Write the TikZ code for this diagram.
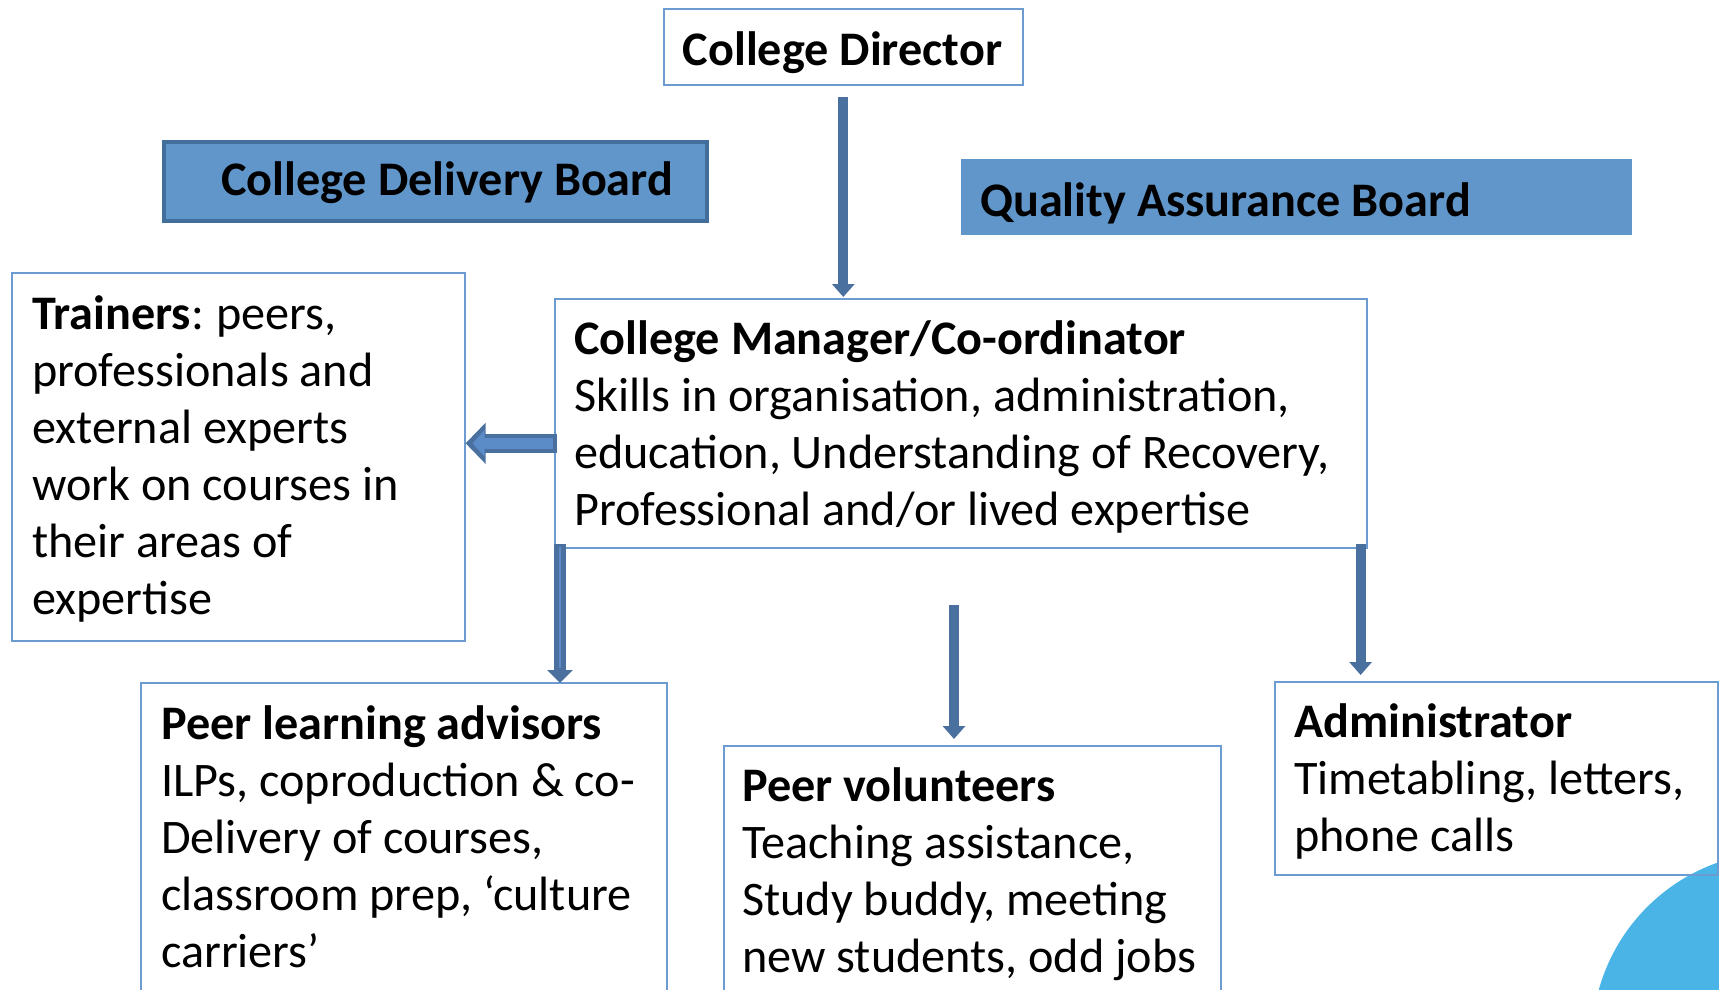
\documentclass[tikz,border=0pt]{standalone}
\usepackage{fontspec}
\setmainfont{Carlito}
\usetikzlibrary{arrows.meta}
\definecolor{boxline}{HTML}{6C9BD2}
\definecolor{boardfill}{HTML}{6096CA}
\definecolor{boardline}{HTML}{426E9B}
\definecolor{arrdark}{HTML}{4A70A0}
\definecolor{arrlight}{HTML}{5B8CC8}
\definecolor{blob}{HTML}{4BB4E6}
\tikzset{
  box/.style={draw=boxline, line width=1.6pt, fill=none, rectangle, inner sep=0pt},
  txt/.style={inner sep=0pt, align=left, font=\fontsize{48.2}{57}\selectfont},
  btxt/.style={inner sep=0pt, font=\fontsize{48.2}{57}\selectfont\bfseries},
  arr/.style={draw=arrdark, line width=10pt, -{Triangle[width=22pt,length=13pt]}},
  thinhi/.style={draw=arrlight, line width=2pt},
}
\begin{document}
\begin{tikzpicture}[x=1pt,y=-1pt]
\useasboundingbox (0,0) rectangle (1719,990);
\clip (0,0) rectangle (1719,990);
% background blob
\fill[blob] (1780,1040) circle[radius=188];
% boxes
\node[box, minimum width=359pt, minimum height=76pt, anchor=north west] (dir) at (663,8) {};
\node[btxt, anchor=base] (dirT) at (842.5,66) {College Director};
\node[rectangle, draw=boardline, line width=4pt, fill=boardfill, minimum width=543pt, minimum height=79pt, anchor=north west, inner sep=0pt] (cdb) at (162,140) {};
\node[btxt, anchor=base west] (cdbT) at (221,195) {College Delivery Board};
\node[rectangle, fill=boardfill, minimum width=671pt, minimum height=76pt, anchor=north west, inner sep=0pt] (qab) at (961,159) {};
\node[btxt, anchor=base west] (qabT) at (980,216) {Quality Assurance Board};
\node[box, minimum width=453pt, minimum height=368pt, anchor=north west] (trn) at (11,272) {};
\node[txt, anchor=north west] (trnT) at (32,289) {\strut\textbf{Trainers}:\hspace{-2pt} peers,\\professionals and\\external experts\\work on courses in\\their areas of\\expertise};
\node[box, minimum width=812pt, minimum height=249pt, anchor=north west] (mgr) at (554,298) {};
\node[txt, anchor=north west] (mgrT) at (574,314) {\strut\textbf{College Manager/Co-ordinator}\\Skills in organisation, administration,\\education, Understanding of Recovery,\\Professional and/or lived expertise};
\node[box, minimum width=526pt, minimum height=330pt, anchor=north west] (pla) at (140,682) {};
\node[txt, anchor=north west] (plaT) at (161,699) {\strut\textbf{Peer learning advisors}\\ILPs, coproduction \& co-\\Delivery of courses,\\classroom prep, ‘culture\\carriers’};
\node[box, minimum width=497pt, minimum height=270pt, anchor=north west] (pv) at (723,745) {};
\node[txt, anchor=north west] (pvT) at (742,761) {\strut\textbf{Peer volunteers}\\Teaching assistance,\\Study buddy, meeting\\new students, odd jobs};
\node[box, minimum width=443pt, minimum height=193pt, anchor=north west] (adm) at (1274,681) {};
\node[txt, anchor=north west] (admT) at (1294,697) {\strut\textbf{Administrator}\\Timetabling, letters,\\phone calls};
% connectors
\draw[arr] ([yshift=-11pt]dir.south) -- ([yshift=1pt]dir.south |- mgr.north);
\draw[arr, line width=12pt, -{Triangle[width=25pt,length=13pt]}] ([shift={(6pt,5pt)}]mgr.south west) -- ([shift={(6pt,-1pt)}]mgr.south west |- pla.north);
\draw[thinhi] ([shift={(6pt,2pt)}]mgr.south west) -- ([shift={(6pt,14pt)}]mgr.south west |- pla.north);
\draw[arr] ([shift={(-7pt,5pt)}]mgr.south east) -- ([shift={(-7pt,6pt)}]mgr.south east |- adm.north);
\coordinate (midtop) at (954,605);
\draw[arr] (midtop) -- ([yshift=6pt]midtop |- pv.north);
% block arrow to trainers
\draw[draw=arrdark, line width=19pt, -{Triangle[width=40pt,length=20pt]}] ([shift={(3pt,-20pt)}]mgr.west) -- ([shift={(0pt,-20pt)}]mgr.west -| trn.east);
\draw[draw=arrlight, line width=11pt, -{Triangle[width=26pt,length=12pt]}] ([shift={(-1pt,-20pt)}]mgr.west) -- ([shift={(7pt,-20pt)}]mgr.west -| trn.east);
\end{tikzpicture}
\end{document}
